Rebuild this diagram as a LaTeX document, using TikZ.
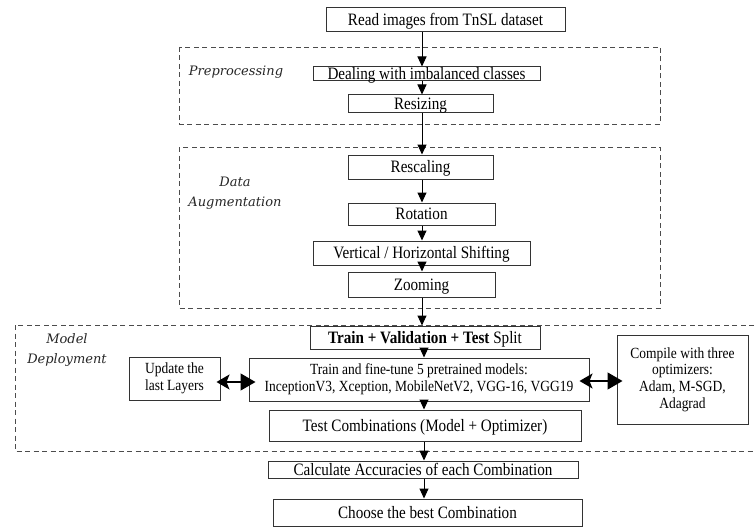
\documentclass[tikz,border=0pt]{standalone}
\usepackage{fontspec}
\setmainfont{Liberation Serif}
\newfontfamily\boxfont[FakeStretch=0.87]{Liberation Serif}
\newfontfamily\grouplabelfont{DejaVu Serif}
\usetikzlibrary{arrows.meta}
\begin{document}
\begin{tikzpicture}[x=1pt,y=-1pt,
  box/.style={draw=black!80, line width=1pt, inner sep=0pt, align=center,
    text height=11pt, text depth=0pt, font=\boxfont\fontsize{17.4}{19}\selectfont},
  sbox/.style={draw=black!80, line width=1pt, inner sep=0pt, align=center,
    font=\boxfont\fontsize{15.5}{16.8}\selectfont},
  group/.style={draw=black!70, line width=0.9pt, dash pattern=on 5pt off 3.5pt},
  lbl/.style={font=\grouplabelfont\itshape\fontsize{13}{20}\selectfont, align=center, inner sep=0pt, text=black!85},
  arr/.style={-{Triangle[width=9pt,length=10pt]}, line width=1pt},
  darr/.style={{Stealth[width=15pt,length=13pt,inset=3pt]}-{Triangle[width=17pt,length=15pt]}, line width=1.4pt}]

\useasboundingbox (0,0) rectangle (756,527);

% dashed groups
\draw[group] (179,47) rectangle (660,124);
\draw[group] (179,147) rectangle (660,308);
\draw[group] (15,325) rectangle (760,451);

% group labels
\node[lbl] (lpre) at (236,72) {Preprocessing};
\node[lbl] (lda) at (235,193) {Data\\Augmentation};
\node[lbl] (lmd) at (67,350) {Model\\Deployment};

% boxes
\node[box, minimum width=239pt, minimum height=24pt] (read) at (445.5,20) {Read images from TnSL dataset};
\node[box, minimum width=227pt, minimum height=14pt] (deal) at (426.5,74) {Dealing with imbalanced classes};
\node[box, minimum width=145pt, minimum height=18pt] (resize) at (420.5,104) {Resizing};
\node[box, minimum width=145pt, minimum height=24pt] (rescale) at (420.5,167) {Rescaling};
\node[box, minimum width=147pt, minimum height=22pt] (rot) at (421.5,214) {Rotation};
\node[box, minimum width=217pt, minimum height=24pt] (shift) at (421.5,253) {Vertical / Horizontal Shifting};
\node[box, minimum width=147pt, minimum height=25pt] (zoomb) at (421.5,284.5) {Zooming};
\node[box, minimum width=230pt, minimum height=23pt] (split) at (425,337.5) {\textbf{Train + Validation + Test} Split};
\node[sbox, minimum width=340pt, minimum height=43pt] (fine) at (419,379.5) {Train and fine-tune 5 pretrained models:\\InceptionV3, Xception, MobileNetV2, VGG-16, VGG19};
\node[sbox, minimum width=91pt, minimum height=43pt] (upd) at (174.5,378.5) {Update the\\last Layers};
\node[sbox, minimum width=131pt, minimum height=89pt] (comp) at (682.5,379.5) {Compile with three\\optimizers:\\Adam, M-SGD,\\Adagrad};
\node[box, minimum width=312pt, minimum height=31pt] (test) at (425,425.5) {Test Combinations (Model + Optimizer)};
\node[box, minimum width=310pt, minimum height=17pt] (calc) at (423,469.5) {Calculate Accuracies of each Combination};
\node[box, minimum width=309pt, minimum height=27pt] (choose) at (427.5,512.5) {Choose the best Combination};

% spine
\coordinate (sp) at (422,0);
\coordinate (sq) at (424,0);

\draw[arr] (read.south -| sp) -- (deal.north -| sp);
\draw[arr] (deal.south -| sp) -- (resize.north -| sp);
\draw[arr] (resize.south -| sp) -- (rescale.north -| sp);
\draw[arr] (rescale.south -| sp) -- (rot.north -| sp);
\draw[arr] (rot.south -| sp) -- (shift.north -| sp);
\draw[arr] (shift.south -| sp) -- (zoomb.north -| sp);
\draw[arr] (zoomb.south -| sp) -- (split.north -| sp);
\draw[arr] (split.south -| sq) -- (fine.north -| sq);
\draw[arr] (fine.south -| sq) -- (test.north -| sq);
\draw[arr] (test.south -| sq) -- (calc.north -| sq);
\draw[arr] (calc.south -| sq) -- (choose.north -| sq);

\draw[darr, shorten <=-4pt, shorten >=-7pt] (upd.east |- 0,382) -- (fine.west |- 0,382);
\draw[darr, shorten <=-10pt, shorten >=-6pt] (fine.east |- 0,381) -- (comp.west |- 0,381);
\end{tikzpicture}
\end{document}
